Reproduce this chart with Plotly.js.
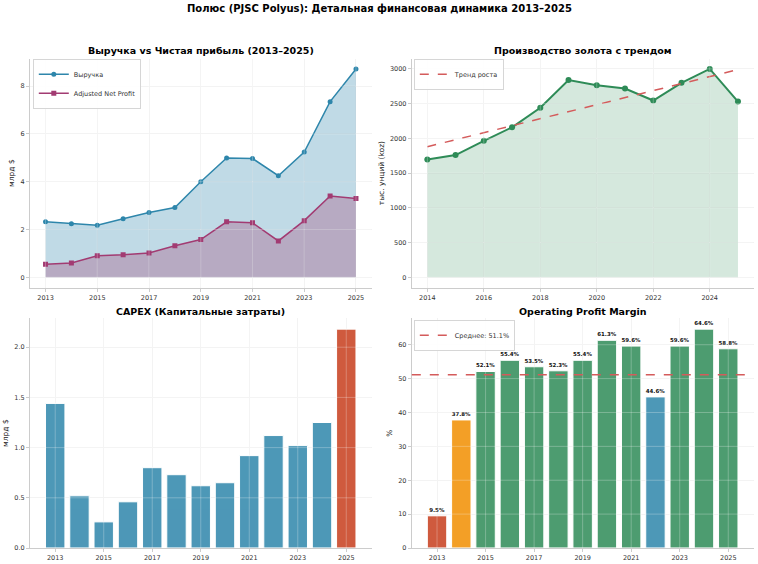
<!DOCTYPE html>
<html>
<head>
<meta charset="utf-8">
<script src="https://cdn.plot.ly/plotly-3.0.1.min.js"></script>
<style>
  body { margin: 0; background: #fff; }
  #chart { width: 758px; height: 564px; }
</style>
</head>
<body>
<div id="chart"></div>
<script>
// --- data ---
const years = [2013, 2014, 2015, 2016, 2017, 2018, 2019, 2020, 2021, 2022, 2023, 2024, 2025];
const revenue = [2.32, 2.24, 2.18, 2.45, 2.71, 2.92, 4.00, 4.99, 4.97, 4.25, 5.24, 7.35, 8.72];
const netProfit = [0.55, 0.60, 0.90, 0.94, 1.02, 1.32, 1.58, 2.32, 2.28, 1.52, 2.37, 3.40, 3.30];

const prodYears = [2014, 2015, 2016, 2017, 2018, 2019, 2020, 2021, 2022, 2023, 2024, 2025];
const production = [1697, 1760, 1964, 2160, 2440, 2840, 2765, 2718, 2545, 2800, 3000, 2530];

const capex = [1.44, 0.52, 0.26, 0.46, 0.80, 0.73, 0.62, 0.65, 0.92, 1.12, 1.02, 1.25, 2.18];

const margin = [9.5, 37.8, 52.1, 55.4, 53.5, 52.3, 55.4, 61.3, 59.6, 44.6, 59.6, 64.6, 58.8];

// palette
const blue = '#2E86AB';
const plum = '#A23B72';
const orange = '#F18F01';
const red = '#C73E1D';
const green = '#2E8B57';
const trendRed = '#d45b5b';

// linear trend for production (least squares)
function linFit(xs, ys) {
  let n = xs.length, mx = 0, my = 0;
  for (let i = 0; i < n; i++) { mx += xs[i]; my += ys[i]; }
  mx /= n; my /= n;
  let sxy = 0, sxx = 0;
  for (let i = 0; i < n; i++) {
    sxy += (xs[i] - mx) * (ys[i] - my);
    sxx += (xs[i] - mx) * (xs[i] - mx);
  }
  const k = sxy / sxx;
  return xs.map(x => my + k * (x - mx));
}
const trend = linFit(prodYears, production);

const meanMargin = margin.reduce((a, b) => a + b, 0) / margin.length;

const capexColors = capex.map((v, i) => i == capex.length - 1 ? red : blue);
const marginColors = margin.map(v => {
  if (v < 20) return red;
  if (v < 40) return orange;
  if (v < 50) return blue;
  return green;
});

const maxOf = a => Math.max.apply(null, a);

const traces = [
  // fills first, lines on top (fills kept out of the legend)
  {
    x: years, y: revenue, type: 'scatter', mode: 'none',
    fill: 'tozeroy', fillcolor: 'rgba(46,134,171,0.3)',
    xaxis: 'x', yaxis: 'y', showlegend: false
  },
  {
    x: years, y: netProfit, type: 'scatter', mode: 'none',
    fill: 'tozeroy', fillcolor: 'rgba(162,59,114,0.3)',
    xaxis: 'x', yaxis: 'y', showlegend: false
  },
  {
    x: years, y: revenue, name: 'Выручка', type: 'scatter', mode: 'lines+markers',
    line: {color: blue, width: 1.5}, marker: {color: blue, size: 5, symbol: 'circle'},
    xaxis: 'x', yaxis: 'y', legend: 'legend'
  },
  {
    x: years, y: netProfit, name: 'Adjusted Net Profit', type: 'scatter', mode: 'lines+markers',
    line: {color: plum, width: 1.5}, marker: {color: plum, size: 5, symbol: 'square'},
    xaxis: 'x', yaxis: 'y', legend: 'legend'
  },
  {
    x: prodYears, y: production, name: 'Производство', type: 'scatter', mode: 'lines+markers',
    fill: 'tozeroy', fillcolor: 'rgba(46,139,87,0.2)',
    line: {color: green, width: 2}, marker: {color: green, size: 6},
    xaxis: 'x2', yaxis: 'y2', showlegend: false
  },
  {
    x: prodYears, y: trend, name: 'Тренд роста', type: 'scatter', mode: 'lines',
    line: {color: trendRed, width: 1.5, dash: 'dash'},
    xaxis: 'x2', yaxis: 'y2', legend: 'legend2'
  },
  {
    x: years, y: capex, type: 'bar', width: 0.8,
    marker: {color: capexColors, opacity: 0.85, line: {color: '#ffffff', width: 1}},
    xaxis: 'x3', yaxis: 'y3', showlegend: false
  },
  {
    x: years, y: margin, type: 'bar', width: 0.8,
    marker: {color: marginColors, opacity: 0.85, line: {color: '#ffffff', width: 1}},
    text: margin.map(v => v.toFixed(1) + '%'),
    textposition: 'outside', cliponaxis: false,
    textfont: {size: 5.5, color: '#111', family: 'DejaVu Sans', weight: 'bold'},
    xaxis: 'x4', yaxis: 'y4', showlegend: false
  }
];

const tickFont = {family: 'DejaVu Sans', size: 6.5, color: '#333'};
function xax(domain, anchor, range, tick0) {
  return {
    domain: domain, anchor: anchor, range: range, tick0: tick0, dtick: 2,
    showgrid: true, gridcolor: '#eeeeee', gridwidth: 0.8, zeroline: false,
    showline: true, linecolor: '#cccccc', linewidth: 1,
    ticks: 'outside', ticklen: 3, tickcolor: '#cccccc', tickfont: tickFont
  };
}
function yax(domain, anchor, range, title, dtick, fmt) {
  return {
    domain: domain, anchor: anchor, range: range, dtick: dtick, tickformat: fmt || '',
    showgrid: true, gridcolor: '#eeeeee', gridwidth: 0.8, zeroline: false,
    showline: true, linecolor: '#cccccc', linewidth: 1,
    ticks: 'outside', ticklen: 3, tickcolor: '#cccccc', tickfont: tickFont,
    title: {text: title, font: {family: 'DejaVu Sans', size: 7.5, color: '#222'}, standoff: 4}
  };
}

const dxL = [30 / 758, 371.5 / 758];
const dxR = [411.8 / 758, 753.5 / 758];
const dyT = [1 - 287.7 / 564, 1 - 58.5 / 564];
const dyB = [1 - 548 / 564, 1 - 318.2 / 564];

const revTop = maxOf(revenue);
const prodTop = maxOf(production);

const titleFont = {family: 'DejaVu Sans', size: 9.5, color: '#000', weight: 'bold'};
function subTitle(text, dom, y) {
  return {
    text: text, xref: 'paper', yref: 'paper', x: (dom[0] + dom[1]) / 2, y: y,
    xanchor: 'center', yanchor: 'middle', showarrow: false, font: titleFont
  };
}

const legendBase = {
  xanchor: 'left', yanchor: 'top', bgcolor: 'rgba(255,255,255,0.9)',
  bordercolor: '#cccccc', borderwidth: 0.8,
  font: {family: 'DejaVu Sans', size: 6.5, color: '#333'},
  itemwidth: 30, tracegroupgap: 0
};

const layout = {
  width: 758, height: 564,
  margin: {l: 0, r: 0, t: 0, b: 0},
  paper_bgcolor: '#ffffff', plot_bgcolor: '#ffffff',
  font: {family: 'DejaVu Sans'},
  bargap: 0.2,
  xaxis: xax(dxL, 'y', [2012.4, 2025.6], 2013),
  yaxis: yax(dyT, 'x', [-0.05 * revTop, revTop * 1.05], 'млрд $', 2),
  xaxis2: xax(dxR, 'y2', [2013.45, 2025.55], 2014),
  yaxis2: yax(dyT, 'x2', [-0.05 * prodTop, prodTop * 1.05], 'тыс. унций (koz)', 500),
  xaxis3: xax(dxL, 'y3', [2011.96, 2026.04], 2013),
  yaxis3: yax(dyB, 'x3', [0, maxOf(capex) * 1.05], 'млрд $', 0.5, '.1f'),
  xaxis4: xax(dxR, 'y4', [2011.96, 2026.04], 2013),
  yaxis4: yax(dyB, 'x4', [0, maxOf(margin) * 1.05], '%', 10),
  legend: Object.assign({}, legendBase, {x: 33 / 758, y: 1 - 59 / 564}),
  legend2: Object.assign({}, legendBase, {x: 414 / 758, y: 1 - 59 / 564}),
  legend3: Object.assign({}, legendBase, {x: 414 / 758, y: 1 - 320 / 564}),
  shapes: [],
  annotations: [
    {
      text: 'Полюс (PJSC Polyus): Детальная финансовая динамика 2013–2025',
      xref: 'paper', yref: 'paper', x: 0.5, y: 1 - 8 / 564, xanchor: 'center', yanchor: 'middle',
      showarrow: false, font: {family: 'DejaVu Sans', size: 10, color: '#000', weight: 'bold'}
    },
    subTitle('Выручка vs Чистая прибыль (2013–2025)', dxL, 1 - 50.7 / 564),
    subTitle('Производство золота с трендом', dxR, 1 - 50.7 / 564),
    subTitle('CAPEX (Капитальные затраты)', dxL, 1 - 311.5 / 564),
    subTitle('Operating Profit Margin', dxR, 1 - 311.5 / 564)
  ]
};

// matplotlib draws its grid over the fills and bars: repeat the gridlines on top, faint white
const gridTop = 'rgba(255,255,255,0.35)';
[['x', 'y'], ['x2', 'y2'], ['x3', 'y3'], ['x4', 'y4']].forEach(function (p) {
  const xa = layout[p[0].replace('x', 'xaxis')];
  const ya = layout[p[1].replace('y', 'yaxis')];
  for (let t = xa.tick0; t <= xa.range[1]; t += xa.dtick) {
    layout.shapes.push({type: 'line', xref: p[0], yref: p[1] + ' domain', x0: t, x1: t, y0: 0, y1: 1,
      line: {color: gridTop, width: 0.8}, layer: 'above'});
  }
  for (let t = 0; t <= ya.range[1] + 1e-9; t += ya.dtick) {
    layout.shapes.push({type: 'line', xref: p[0] + ' domain', yref: p[1], x0: 0, x1: 1, y0: t, y1: t,
      line: {color: gridTop, width: 0.8}, layer: 'above'});
  }
});

layout.shapes.push({
  type: 'line', xref: 'x4 domain', yref: 'y4', x0: 0, x1: 1, y0: meanMargin, y1: meanMargin,
  line: {color: trendRed, width: 1.5, dash: 'dash'}, layer: 'above',
  showlegend: true, name: 'Среднее: ' + meanMargin.toFixed(1) + '%', legend: 'legend3'
});

Plotly.newPlot('chart', traces, layout, {displayModeBar: false, staticPlot: true});
</script>
</body>
</html>
